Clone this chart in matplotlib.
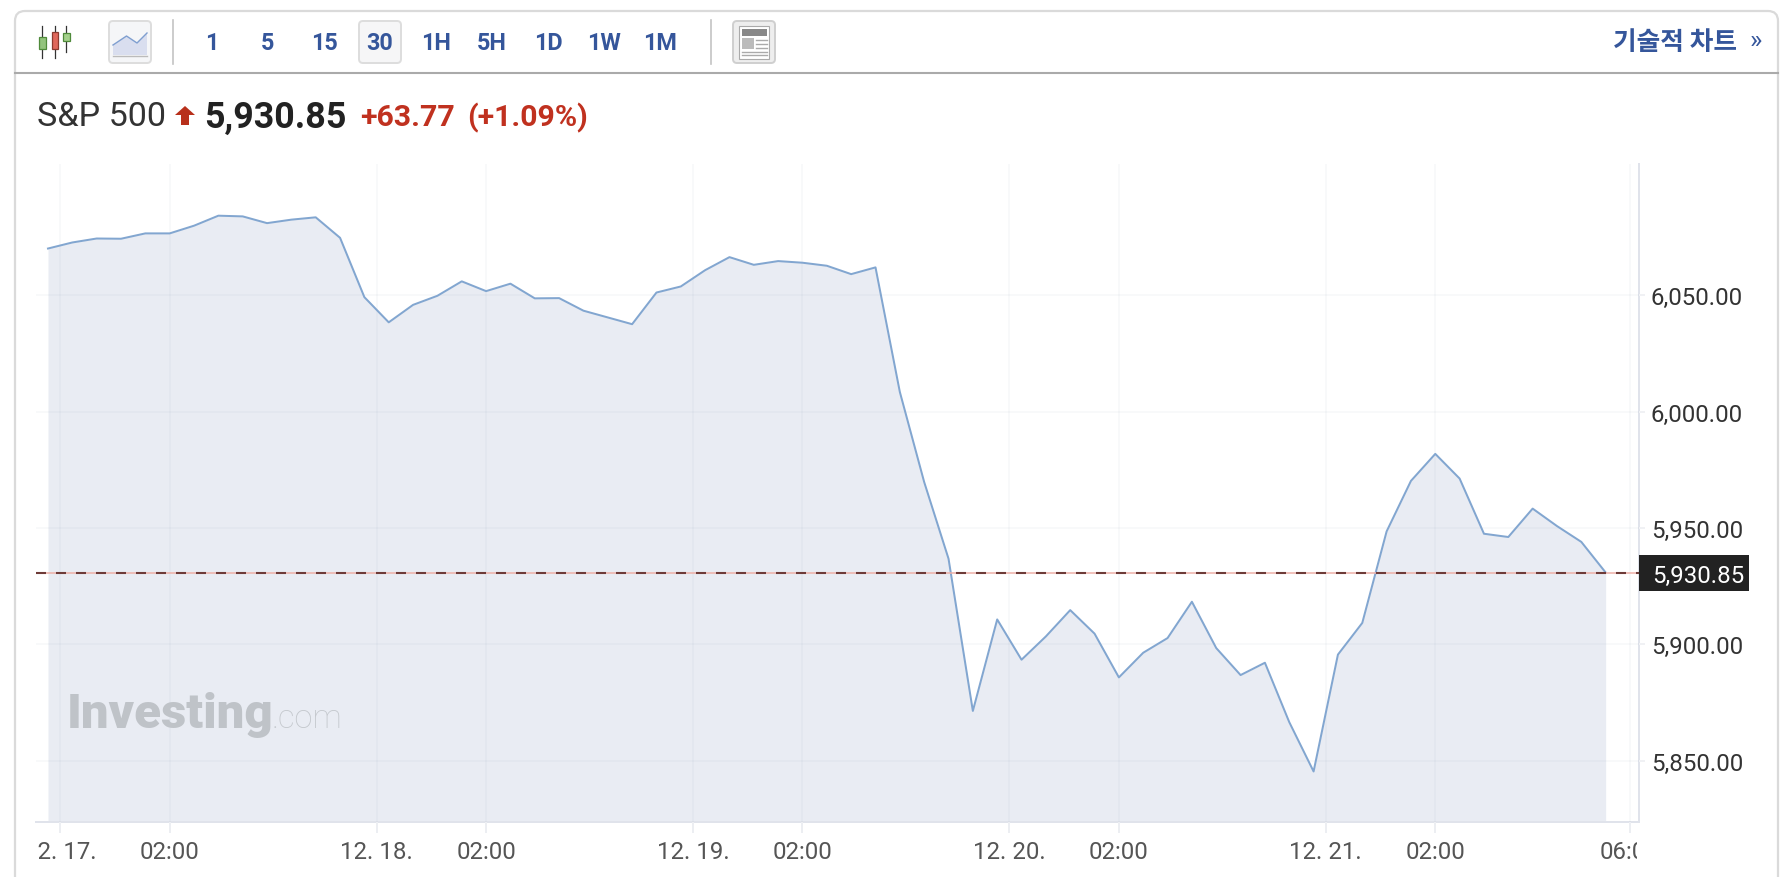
import matplotlib
matplotlib.use("Agg")
from matplotlib import pyplot as plt
from matplotlib.patches import FancyBboxPatch, Rectangle, Polygon
from matplotlib.transforms import Bbox

plt.rcParams["font.family"] = ["Roboto", "Noto Sans CJK KR", "DejaVu Sans"]
plt.rcParams["lines.scale_dashes"] = False

prices = [
    6070.0, 6072.6, 6074.3, 6074.2, 6076.5, 6076.5, 6079.8, 6084.1, 6083.8, 6080.9, 6082.4, 6083.4, 6074.6,
    6049.1, 6038.3, 6045.8, 6049.7, 6055.9, 6051.7, 6054.9, 6048.6, 6048.7, 6043.3, 6040.4, 6037.5, 6051.1,
    6053.7, 6060.7, 6066.3, 6063.0, 6064.6, 6063.9, 6062.6, 6059.0, 6061.9, 6008.4, 5969.7, 5936.8, 5871.4,
    5910.7, 5893.4, 5903.4, 5914.7, 5904.6, 5885.8, 5896.4, 5902.7, 5918.3, 5898.4, 5886.8, 5892.1, 5866.6,
    5845.4, 5895.6, 5909.2, 5948.5, 5970.2, 5981.8, 5971.2, 5947.5, 5946.1, 5958.3, 5950.8, 5944.0, 5930.85,
]
last_price = 5930.85
y_ticks = [5850, 5900, 5950, 6000, 6050]
x_ticks = [0.5, 5, 13.5, 18, 26.5, 31, 39.5, 44, 52.5, 57, 65]
x_labels = ["12. 17.", "02:00", "12. 18.", "02:00", "12. 19.", "02:00", "12. 20.", "02:00", "12. 21.", "02:00", "06:00"]
intervals = ["1", "5", "15", "30", "1H", "5H", "1D", "1W", "1M"]
interval_x = [212, 268, 324, 380, 436, 492, 548, 604, 660]

BLUE = "#35569b"
RED = "#c0311f"
DARK = "#222222"
GRID = "#8a9ab0"
AXIS = "#e0e3eb"

fig = plt.figure(figsize=(17.85, 8.78), dpi=100)

# page furniture, in pixels
ui = fig.add_axes([0, 0, 1, 1], zorder=0)
ui.set_xlim(0, 1785)
ui.set_ylim(878, 0)
ui.axis("off")


def button(x0, y0, x1, y1, face, edge):
    ui.add_patch(FancyBboxPatch((x0 + 3, y0 + 3), x1 - x0 - 6, y1 - y0 - 6, boxstyle="round,pad=3,rounding_size=4",
                                fc=face, ec=edge, lw=1.4))


ui.add_patch(FancyBboxPatch((22, 19), 1749, 900, boxstyle="round,pad=7,rounding_size=10", fc="white", ec="#dadada", lw=1.6))
ui.plot([15, 1778], [74, 74], color="#aaaaaa", lw=1.5)
ui.plot([173, 173], [21, 65], color="#c4c4c4", lw=1.2)
ui.plot([711, 711], [21, 65], color="#c4c4c4", lw=1.2)

# candlestick icon
for wx, w0, w1, bx, b0, b1, fc, ec in [(42.3, 27, 59, 39, 38, 50, "#93c47d", "#4f8a3a"),
                                       (54.6, 27, 59, 51.5, 33, 50, "#e0685c", "#8c3a30"),
                                       (66.3, 27, 53, 63, 34, 42, "#a4d08c", "#4f8a3a")]:
    ui.plot([wx, wx], [w0, w1], color="#333333", lw=0.9)
    ui.add_patch(Rectangle((bx, b0), 6.5, b1 - b0, fc=fc, ec=ec, lw=0.9, zorder=3))

# line icon
button(109, 22, 151, 64, "#f5f6f8", "#dddddd")
ui.add_patch(Polygon([(113, 46), (126.5, 37), (137, 44), (147, 34), (147, 56), (113, 56)], fc="#d9deef", ec="none"))
ui.plot([113, 126.5, 137, 147], [46, 37, 44, 34], color="#7f9fd0", lw=1)
ui.plot([113, 147], [56.5, 56.5], color="#bbbbbb", lw=1)

# interval buttons
button(359, 22, 401, 64, "#f6f6f7", "#dddddd")
for label, lx in zip(intervals, interval_x):
    ui.text(lx, 43.5, label, color=BLUE, fontsize=16.8, fontweight="bold", ha="center", va="center", zorder=3)

# news icon
button(733, 22, 775, 64, "#eeeeee", "#cfcfcf")
ui.add_patch(Rectangle((739, 27), 30, 33, fc="white", ec="#aaaaaa", lw=0.8))
ui.add_patch(Rectangle((742, 30), 25, 7, fc="#888888", ec="none"))
ui.add_patch(Rectangle((742, 39), 12, 11, fc="#bbbbbb", ec="none"))
for ly in [40.5, 44.5, 48.5]:
    ui.plot([756, 767], [ly, ly], color="#aaaaaa", lw=1)
for ly in [53, 56]:
    ui.plot([742, 767], [ly, ly], color="#aaaaaa", lw=1)

ui.text(1737, 43, "기술적 차트", color=BLUE, fontsize=18.5, fontweight="bold", family=["Noto Sans CJK KR"], ha="right", va="center")
ui.text(1756, 41.5, "»", color=BLUE, fontsize=19, ha="center", va="center")

# title row
ui.text(37, 117.5, "S&P 500", color="#333333", fontsize=24.6, ha="left", va="center")
ui.add_patch(Polygon([(175, 116), (185, 107), (195, 116), (189, 116), (189, 126), (181, 126), (181, 116)], fc="#b8301b", ec="none"))
ui.text(204, 117.5, "5,930.85", color=DARK, fontsize=25.8, fontweight="bold", ha="left", va="center")
ui.text(360, 117.5, "+63.77", color=RED, fontsize=21.8, fontweight="bold", ha="left", va="center")
ui.text(467, 117.5, "(+1.09%)", color=RED, fontsize=21.8, fontweight="bold", ha="left", va="center")

# chart
ax = fig.add_axes([36 / 1785, (878 - 823) / 878, (1639 - 36) / 1785, (823 - 165) / 878], zorder=1)
ax.patch.set_visible(False)
xs = list(range(len(prices)))
ax.set_xlim(-0.493, 65.37)
ax.set_ylim(5823.7, 6106.3)

ax.fill_between(xs, prices, 5823.7, color="#e9ecf3", lw=0, zorder=1)
ax.set_xticks(x_ticks)
ax.set_xticklabels(x_labels)
ax.set_yticks(y_ticks)
ax.set_yticklabels([f"{v:,.2f}" for v in y_ticks], va="center_baseline")
ax.grid(True, color=GRID, alpha=0.06, lw=1.44, zorder=2)
ax.set_axisbelow(False)
ax.yaxis.tick_right()
ax.tick_params(axis="x", length=8, width=1.44, color="#eceef2", labelsize=17.3, labelcolor="#555555", pad=5)
ax.tick_params(axis="y", length=4.5, width=1.44, color="#f0f1f4", labelsize=17.3, labelcolor="#333333", pad=4)
for sp in ["top", "left"]:
    ax.spines[sp].set_visible(False)
for sp in ["bottom", "right"]:
    ax.spines[sp].set_color(AXIS)
    ax.spines[sp].set_linewidth(1.44)

clip = Bbox([[38, 0], [1637, 878]])
for lab in ax.get_xticklabels():
    lab.set_clip_on(True)
    lab.set_clip_box(clip)

ax.plot(xs, prices, color="#82a6d0", lw=1.44, zorder=3)
ax.axhline(last_price, color="#eeb0a8", lw=1.1, zorder=4)
ax.axhline(last_price, color="#6e3b38", lw=1.5, ls=(0, (7.2, 7.2)), zorder=5)

# last price tag
ax.add_patch(Rectangle((1.0, last_price - 7.9), 110 / 1603, 15.5, transform=ax.get_yaxis_transform(),
                       fc=DARK, ec="none", clip_on=False, zorder=6))
ax.text(1.0 + 13 / 1603, last_price, f"{last_price:,.2f}", transform=ax.get_yaxis_transform(), color="white",
        fontsize=17.3, ha="left", va="center_baseline", zorder=7)

# watermark
ui2 = fig.add_axes([0, 0, 1, 1], zorder=2)
ui2.set_xlim(0, 1785)
ui2.set_ylim(878, 0)
ui2.axis("off")
ui2.text(67, 728, "Investing", color="#bfc3c8", fontsize=35.5, fontweight="black", ha="left", va="baseline")
ui2.text(272, 728, ".com", color="#c4c8cd", fontsize=23.5, fontweight="light", ha="left", va="baseline")

fig.savefig("out.png", dpi=100)
